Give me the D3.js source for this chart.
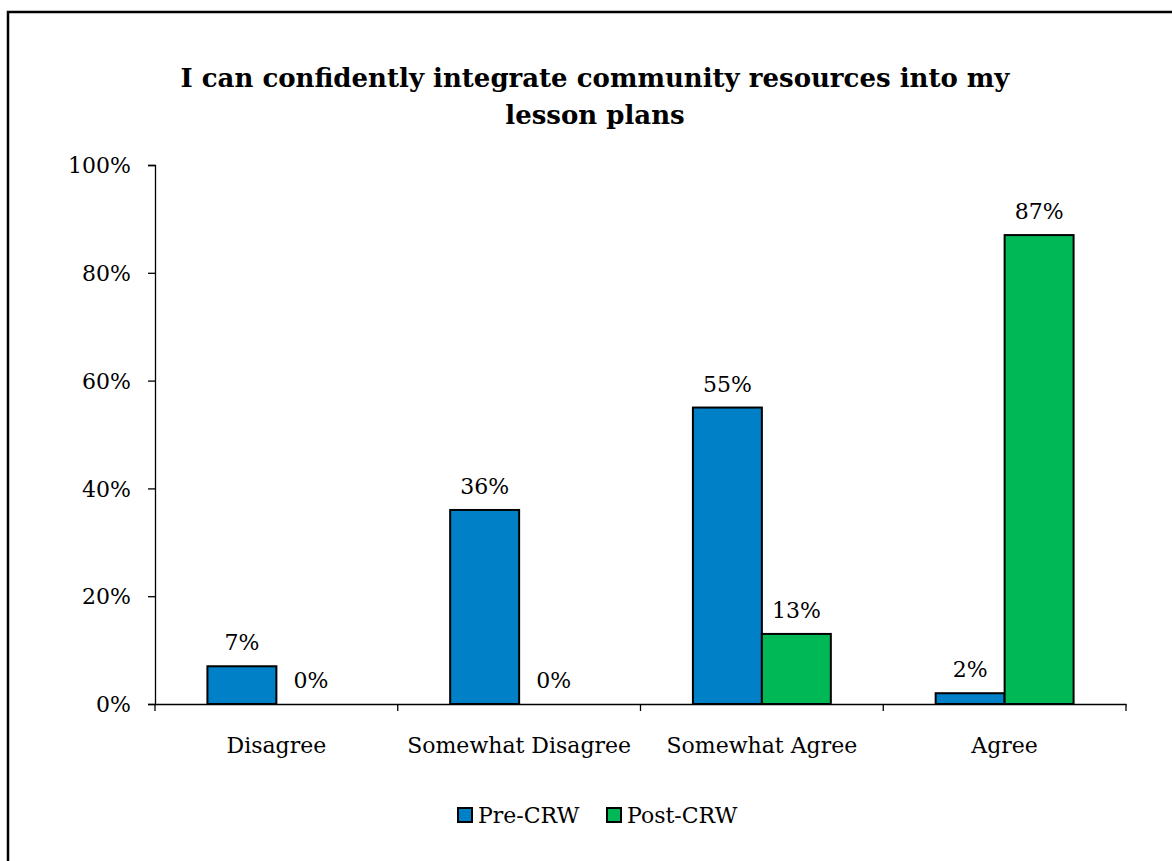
<!DOCTYPE html>
<html>
<head>
<meta charset="utf-8">
<script src="https://cdn.jsdelivr.net/npm/d3@7"></script>
<style>
  body { margin: 0; background: #fff; }
  text { font-family: "DejaVu Serif", serif; fill: #000; }
</style>
</head>
<body>
<div id="chart"></div>
<script>
// Chart data
const categories = ["Disagree", "Somewhat Disagree", "Somewhat Agree", "Agree"];
const seriesNames = ["Pre-CRW", "Post-CRW"];
const preValues = [7, 36, 55, 2];
const postValues = [0, 0, 13, 87];
const yTicks = [0, 20, 40, 60, 80, 100];
const titleLines = ["I can confidently integrate community resources into my", "lesson plans"];

const width = 1172, height = 861;
const margin = { top: 165, bottom: 157, left: 155, right: 46 };
const colors = { "Pre-CRW": "#0080C6", "Post-CRW": "#00B956" };

const svg = d3.select("#chart")
    .append("svg")
    .attr("width", width)
    .attr("height", height);

// Outer frame (runs off the right and bottom of the picture)
svg.append("rect")
    .attr("x", 8)
    .attr("y", 12)
    .attr("width", width + 20)
    .attr("height", height + 20)
    .attr("fill", "none")
    .attr("stroke", "#000")
    .attr("stroke-width", 2.5);

// Scales
const xScale = d3.scaleBand()
    .domain(categories)
    .range([margin.left, width - margin.right])
    .paddingInner(0)
    .paddingOuter(0);

const xInner = d3.scaleBand()
    .domain(seriesNames)
    .range([0, xScale.bandwidth()])
    .paddingOuter(0.76)
    .paddingInner(0);

const yScale = d3.scaleLinear()
    .domain([0, 100])
    .range([height - margin.bottom, margin.top]);

// Title
svg.append("text")
    .attr("x", 595)
    .attr("y", 87)
    .attr("text-anchor", "middle")
    .style("font-size", "26px")
    .style("font-weight", "bold")
    .selectAll("tspan")
    .data(titleLines)
    .enter()
    .append("tspan")
    .attr("x", 595)
    .attr("dy", (d, i) => i === 0 ? 0 : 37)
    .text(d => d);

// Y axis
const yAxis = svg.append("g")
    .attr("transform", `translate(${margin.left},0)`)
    .call(d3.axisLeft(yScale).tickValues(yTicks).tickSize(7).tickSizeOuter(7).tickFormat(d => d + "%"));
yAxis.selectAll("text").style("font-size", "22px").attr("x", -24).attr("dy", "0.35em");

// X axis: ticks at category boundaries
const xAxis = svg.append("g")
    .attr("transform", `translate(0,${height - margin.bottom})`)
    .call(d3.axisBottom(xScale).tickSize(0).tickSizeOuter(0));
xAxis.selectAll("text").style("font-size", "22px").attr("y", 33);

const boundaries = categories.map(c => xScale(c)).concat([xScale.range()[1]]);
xAxis.selectAll(".boundary")
    .data(boundaries)
    .enter()
    .append("line")
    .attr("class", "boundary")
    .attr("x1", d => d).attr("x2", d => d)
    .attr("y1", 0).attr("y2", 7)
    .attr("stroke", "#000");

svg.selectAll(".domain, .tick line, .boundary").attr("stroke", "#000").attr("stroke-width", 1.3);

// Bars
const rows = categories.map((c, i) => ({
    category: c,
    values: [
        { series: "Pre-CRW", value: preValues[i] },
        { series: "Post-CRW", value: postValues[i] }
    ]
}));

const groups = svg.selectAll(".group")
    .data(rows)
    .enter()
    .append("g")
    .attr("transform", d => `translate(${xScale(d.category)},0)`);

groups.selectAll("rect")
    .data(d => d.values)
    .enter()
    .append("rect")
    .attr("x", d => xInner(d.series))
    .attr("y", d => yScale(d.value))
    .attr("width", xInner.bandwidth())
    .attr("height", d => yScale(0) - yScale(d.value))
    .attr("fill", d => colors[d.series])
    .attr("stroke", "#000")
    .attr("stroke-width", d => d.value > 0 ? 2 : 0);

// Value labels
groups.selectAll(".label")
    .data(d => d.values)
    .enter()
    .append("text")
    .attr("class", "label")
    .attr("x", d => xInner(d.series) + xInner.bandwidth() / 2)
    .attr("y", d => yScale(d.value) - 16)
    .attr("text-anchor", "middle")
    .style("font-size", "22px")
    .text(d => d.value + "%");

// Legend
const legend = svg.append("g")
    .attr("transform", "translate(458,815)");
const legendX = [0, 149];
seriesNames.forEach((s, i) => {
    const g = legend.append("g").attr("transform", `translate(${legendX[i]},0)`);
    g.append("rect")
        .attr("x", 0).attr("y", -7)
        .attr("width", 14).attr("height", 14)
        .attr("fill", colors[s])
        .attr("stroke", "#000")
        .attr("stroke-width", 2);
    g.append("text")
        .attr("x", 20)
        .attr("y", 0)
        .attr("dy", "0.35em")
        .style("font-size", "22px")
        .text(s);
});
</script>
</body>
</html>
